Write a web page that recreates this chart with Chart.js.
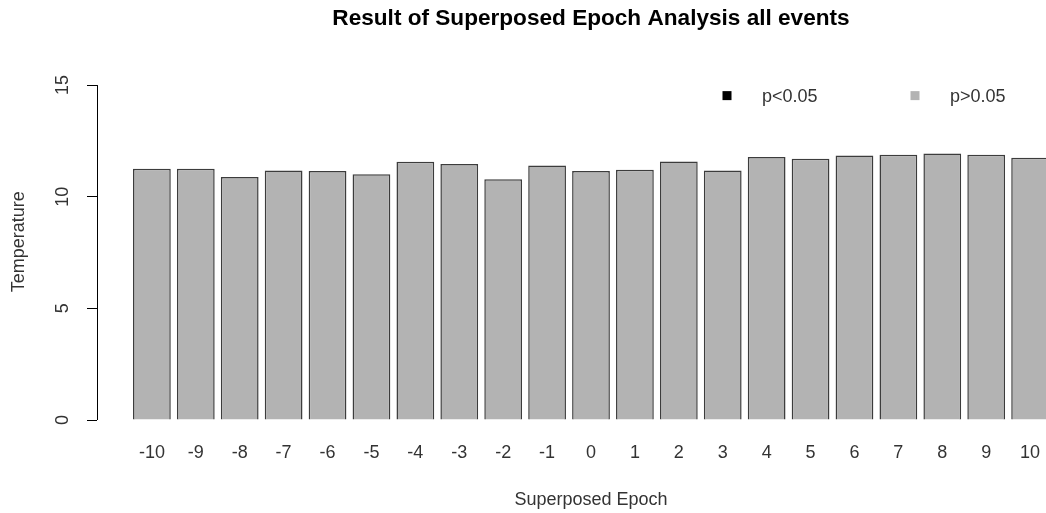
<!DOCTYPE html>
<html><head><meta charset="utf-8">
<script src="https://cdn.jsdelivr.net/npm/chart.js@4.4.1/dist/chart.umd.min.js"></script>
<style>
html,body{margin:0;padding:0;overflow:hidden;background:#fff;width:1046px;height:513px}
#wrap{position:absolute;left:0;top:0;width:1100px;height:513px}
</style>
</head><body><div id="wrap"><canvas id="c" width="1100" height="513"></canvas></div>
<script>
const epochs = [-10, -9, -8, -7, -6, -5, -4, -3, -2, -1, 0, 1, 2, 3, 4, 5, 6, 7, 8, 9, 10];
const temperature = [11.25, 11.25, 10.88, 11.17, 11.15, 11.00, 11.57, 11.46, 10.78, 11.40, 11.15, 11.21, 11.58, 11.17, 11.78, 11.70, 11.84, 11.88, 11.94, 11.88, 11.75];
const yTickValues = [0, 5, 10, 15];
const legendLabels = ['p<0.05', 'p>0.05'];
const legendColors = ['#000000', '#b3b3b3'];
const titleText = 'Result of Superposed Epoch Analysis all events';
const xTitleText = 'Superposed Epoch';
const yTitleText = 'Temperature';

Chart.defaults.font.family = "'Liberation Sans', Arial, sans-serif";
Chart.defaults.color = '#333';

const extras = {
  id: 'extras',
  afterDraw(chart) {
    const ctx = chart.ctx, ys = chart.scales.y, ca = chart.chartArea;
    ctx.save();
    // y axis line from 0 to 15 (R style)
    const x = Math.round(ys.right) + 0.5;
    ctx.strokeStyle = '#000';
    ctx.lineWidth = 1;
    ctx.beginPath();
    ctx.moveTo(x, ys.getPixelForValue(yTickValues[0]));
    ctx.lineTo(x, ys.getPixelForValue(yTickValues[yTickValues.length - 1]));
    ctx.stroke();
    // legend
    const ly = ca.top + 32;
    const offs = [[630, 665], [818, 853]];
    ctx.font = "18px 'Liberation Sans', Arial, sans-serif";
    ctx.textBaseline = 'middle';
    ctx.textAlign = 'left';
    legendLabels.forEach((lab, i) => {
      const sx = ca.left + offs[i][0], tx = ca.left + offs[i][1];
      ctx.fillStyle = legendColors[i];
      ctx.fillRect(sx - 4.5, ly - 4.5, 9, 9);
      ctx.fillStyle = '#333';
      ctx.fillText(lab, tx, ly + 1.5);
    });
    ctx.restore();
  }
};

new Chart(document.getElementById('c'), {
  type: 'bar',
  data: {
    datasets: [{
      data: epochs.map((e, i) => ({ x: e, y: temperature[i] })),
      backgroundColor: '#b3b3b3',
      borderColor: '#3c3c3c',
      borderWidth: 1.5,
      barPercentage: 0.86,
      categoryPercentage: 1
    }]
  },
  options: {
    responsive: false,
    animation: false,
    devicePixelRatio: 1,
    layout: { padding: { left: 0, right: 15, top: 0, bottom: 0 } },
    plugins: {
      legend: { display: false },
      tooltip: { enabled: false },
      title: {
        display: true,
        text: titleText,
        fullSize: false,
        color: '#000',
        font: { size: 22.6, weight: 'bold' },
        padding: { top: 5, bottom: 31.5 }
      }
    },
    scales: {
      x: {
        type: 'linear',
        offset: false,
        min: -11.25,
        max: 11.25,
        afterBuildTicks: s => { s.ticks = epochs.map(v => ({ value: v })); },
        afterFit: s => { s.paddingLeft = 0; s.paddingRight = 0; },
        grid: { display: false, drawTicks: false, offset: false },
        border: { display: false },
        ticks: { font: { size: 18 }, padding: 22, maxRotation: 0, autoSkip: false, callback: v => String(v) },
        title: { display: true, text: xTitleText, font: { size: 18 }, padding: { top: 3.8, bottom: 2 } }
      },
      y: {
        min: 0,
        max: 15.96,
        afterBuildTicks: s => { s.ticks = yTickValues.map(v => ({ value: v })); },
        afterFit: s => { s.width = 97; },
        grid: { display: true, drawOnChartArea: false, drawTicks: true, tickLength: 10, tickColor: '#000', tickWidth: 1 },
        border: { display: false },
        ticks: { font: { size: 18 }, padding: 13.5, minRotation: 90, maxRotation: 90, crossAlign: 'center' },
        title: { display: true, text: yTitleText, font: { size: 18 }, padding: { top: 8, bottom: 0 } }
      }
    }
  },
  plugins: [extras]
});
</script>
</body></html>
